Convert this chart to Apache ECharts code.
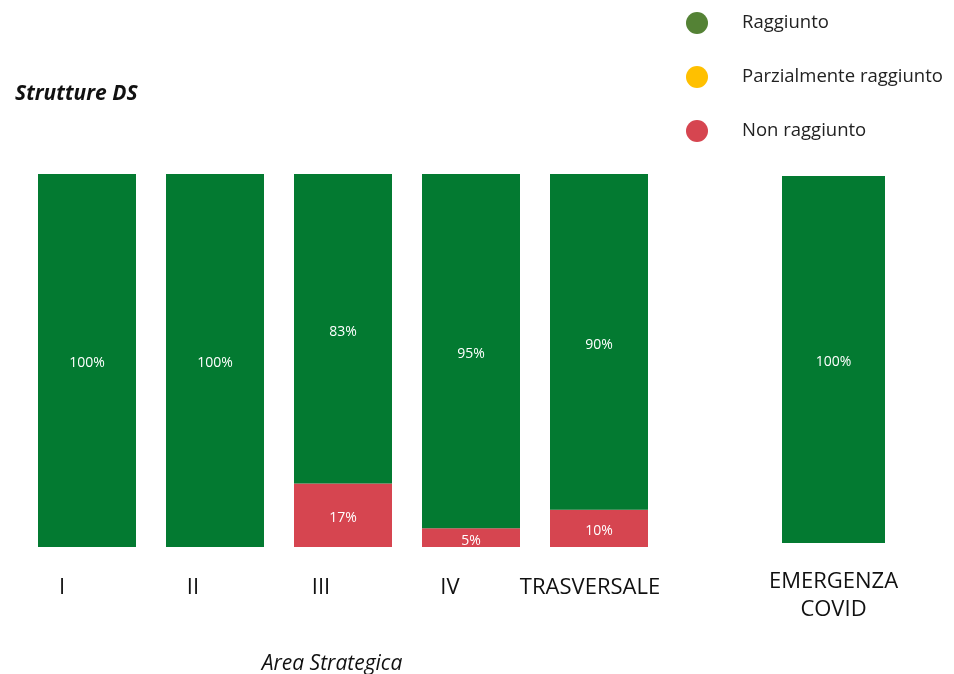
<!DOCTYPE html>
<html>
<head>
<meta charset="utf-8">
<script src="https://cdn.jsdelivr.net/npm/echarts@6/dist/echarts.min.js"></script>
<style>
  html, body { margin: 0; padding: 0; background: #fff; }
  #chart { width: 954px; height: 674px; }
</style>
</head>
<body>
<div id="chart"></div>
<script>
// Aree strategiche e percentuali di obiettivi per stato
const categories = ['I', 'II', 'III', 'IV', 'TRASVERSALE'];
const raggiunto = [100, 100, 83, 95, 90];
const parzialmente = [0, 0, 0, 0, 0];
const nonRaggiunto = [0, 0, 17, 5, 10];

const covidCategories = ['EMERGENZA\nCOVID'];
const covidRaggiunto = [100];

const legendNames = ['Raggiunto', 'Parzialmente raggiunto', 'Non raggiunto'];

const GREEN = '#037A31';
const RED = '#D64550';
const YELLOW = '#FFC000';
const FONT = '"Open Sans", "Noto Sans", sans-serif';

// small left shifts for the area labels under each bar
const labelShift = { 'I': 50, 'II': 44, 'III': 44, 'IV': 42, 'TRASVERSALE': 18 };
const richKey = c => (c === 'TRASVERSALE' ? 't' : 'c' + c);

const pctLabel = {
  show: true,
  position: 'inside',
  offset: [0, 3],
  color: '#fff',
  fontSize: 14,
  fontFamily: FONT,
  formatter: p => (p.value > 0 ? p.value + '%' : '')
};

const chart = echarts.init(document.getElementById('chart'));
chart.setOption({
  animation: false,
  title: [
    {
      text: 'Strutture DS',
      left: 10, top: 79,
      textStyle: { fontSize: 21, fontWeight: 'bold', fontStyle: 'italic', color: '#111', fontFamily: FONT }
    },
    {
      text: 'Area Strategica',
      left: 327, top: 649, textAlign: 'center',
      textStyle: { fontSize: 21, fontWeight: 'normal', fontStyle: 'italic', color: '#111', fontFamily: FONT }
    }
  ],
  legend: {
    orient: 'vertical',
    left: 681, top: 7,
    icon: 'circle',
    itemWidth: 24, itemHeight: 22,
    itemGap: 32,
    selectedMode: false,
    textStyle: { fontSize: 18.5, color: '#222', fontFamily: FONT, padding: [0, 0, 0, 28] },
    data: [
      { name: legendNames[0], itemStyle: { color: '#548235' } },
      { name: legendNames[1], itemStyle: { color: YELLOW } },
      { name: legendNames[2], itemStyle: { color: RED } }
    ]
  },
  grid: [
    { left: 23, width: 640, top: 174, height: 373 },
    { left: 782, width: 103, top: 176, height: 367 }
  ],
  xAxis: [
    {
      type: 'category', gridIndex: 0, data: categories,
      axisLine: { show: false }, axisTick: { show: false },
      axisLabel: {
        interval: 0,
        hideOverlap: false,
        margin: 30,
        formatter: v => '{' + richKey(v) + '|' + v + '}',
        rich: Object.fromEntries(categories.map(c => [
          richKey(c),
          { fontSize: 22, color: '#111', fontFamily: FONT, padding: [0, labelShift[c], 0, 0] }
        ]))
      }
    },
    {
      type: 'category', gridIndex: 1, data: covidCategories,
      axisLine: { show: false }, axisTick: { show: false },
      axisLabel: { interval: 0, margin: 25, fontSize: 22, lineHeight: 28, color: '#111', fontFamily: FONT }
    }
  ],
  yAxis: [
    { type: 'value', gridIndex: 0, min: 0, max: 100, show: false },
    { type: 'value', gridIndex: 1, min: 0, max: 100, show: false }
  ],
  series: [
    {
      name: legendNames[2], type: 'bar', stack: 'aree', xAxisIndex: 0, yAxisIndex: 0,
      barWidth: 98, data: nonRaggiunto, itemStyle: { color: RED }, label: pctLabel
    },
    {
      name: legendNames[1], type: 'bar', stack: 'aree', xAxisIndex: 0, yAxisIndex: 0,
      barWidth: 98, data: parzialmente, itemStyle: { color: YELLOW }, label: pctLabel
    },
    {
      name: legendNames[0], type: 'bar', stack: 'aree', xAxisIndex: 0, yAxisIndex: 0,
      barWidth: 98, data: raggiunto, itemStyle: { color: GREEN }, label: pctLabel
    },
    {
      name: legendNames[0], type: 'bar', xAxisIndex: 1, yAxisIndex: 1,
      barWidth: 103, data: covidRaggiunto, itemStyle: { color: GREEN }, label: pctLabel
    }
  ]
});
</script>
</body>
</html>
